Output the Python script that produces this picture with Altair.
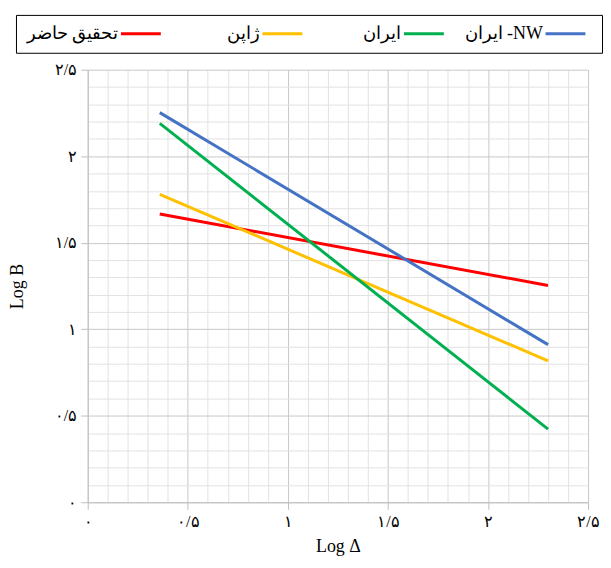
import altair as alt
import pandas as pd

# Series (legend order left to right as in the reference)
series_names = ["تحقیق حاضر", "ژاپن", "ایران", "ایران -NW"]
series_colors = ["#FF0000", "#FFC000", "#00B050", "#4472C4"]

# Each series is a straight line between two x positions
x_points = [0.36, 2.30]
y_red = [1.666, 1.253]
y_yellow = [1.78, 0.817]
y_green = [2.19, 0.423]
y_blue = [2.252, 0.911]

# Axis ticks / labels (Persian digits)
major_ticks = [0, 0.5, 1, 1.5, 2, 2.5]
tick_labels = ["۰", "۰/۵", "۱", "۱/۵", "۲", "۲/۵"]
grid_values = [round(i * 0.1, 1) for i in range(26)]

rows = []
for name, ys in zip(series_names, [y_red, y_yellow, y_green, y_blue]):
    for x, y in zip(x_points, ys):
        rows.append({"series": name, "logD": x, "logB": y})
df = pd.DataFrame(rows)

label_expr = ""
for v, lab in zip(major_ticks, tick_labels):
    label_expr += f"datum.value == {v} ? '{lab}' : "
label_expr += "''"

major_test = "indexof([" + ",".join(str(v) for v in major_ticks) + "], datum.value) >= 0"
grid_color = {"condition": {"test": major_test, "value": "#c8c8c8"}, "value": "#e2e2e2"}
tick_opacity = {"condition": {"test": major_test, "value": 1}, "value": 0}

serif = "Liberation Serif"

def make_axis(title, title_padding):
    return alt.Axis(
        values=grid_values,
        labelExpr=label_expr,
        title=title,
        titleFont=serif,
        titleFontSize=18,
        titleFontWeight="normal",
        titleColor="black",
        titlePadding=title_padding,
        labelFont=serif,
        labelFontSize=16,
        labelColor="black",
        labelPadding=4,
        tickSize=7,
        tickColor="#bfbfbf",
        tickOpacity=tick_opacity,
        domainColor="#bfbfbf",
        gridColor=grid_color,
        gridOpacity=1,
        labelFlush=False,
        labelOverlap=False,
    )

# legend entry geometry: label right-aligned, 40 px line symbol after it
L = 88                       # right edge of the label inside an entry
sym_d = 40 / 3               # custom path "M-3,0H3" -> 3 * sym_d = 40 px long
sym_size = sym_d ** 2
sym_offset = L + 5 + sym_d   # symbol spans [L+5, L+45]
lab_offset = L - sym_d - sym_offset  # label x = size + symbolOffset + labelOffset

chart = (
    alt.Chart(df)
    .mark_line(strokeWidth=3)
    .encode(
        x=alt.X("logD:Q", scale=alt.Scale(domain=[0, 2.5], nice=False, zero=False),
                axis=make_axis("Log Δ", 8)),
        y=alt.Y("logB:Q", scale=alt.Scale(domain=[0, 2.5], nice=False, zero=False),
                axis=make_axis("Log B", 28)),
        color=alt.Color(
            "series:N",
            scale=alt.Scale(domain=series_names, range=series_colors),
            sort=series_names,
            legend=alt.Legend(
                orient="none",
                legendX=-72,
                legendY=-55,
                direction="horizontal",
                title=None,
                symbolType="M-3,0H3",
                symbolSize=sym_size,
                symbolStrokeWidth=3,
                symbolOffset=sym_offset,
                labelAlign="right",
                labelOffset={"expr": f"{lab_offset:.2f}"},
                labelFont=serif,
                labelFontSize=18,
                labelColor="black",
                labelLimit=0,
                strokeColor="black",
                fillColor="white",
                padding=10,
                columnPadding=0,
            ),
        ),
        order=alt.Order("series:N"),
    )
    .properties(
        width=502,
        height=434,
        padding={"left": 0, "top": 5, "right": 0, "bottom": 0},
    )
    .configure_view(stroke=None)
)

chart.save("out.html", embed_options={"renderer": "svg", "actions": False})
